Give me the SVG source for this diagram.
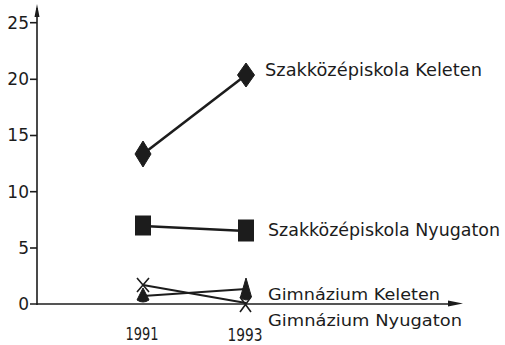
<svg xmlns="http://www.w3.org/2000/svg" width="505" height="345" viewBox="0 0 505 345">
<style>
.t{font-family:"DejaVu Sans","Liberation Sans",sans-serif;fill:#1c1c1c}
.ax{stroke:#1c1c1c;stroke-width:1.6;fill:none}
.ln{stroke:#1c1c1c;stroke-width:2.6;fill:none}
.thin{stroke:#1c1c1c;stroke-width:2;fill:none}
.mk{fill:#1c1c1c;stroke:#1c1c1c;stroke-width:1}
.x{stroke:#1c1c1c;stroke-width:1.6;fill:none}
</style>
<rect width="505" height="345" fill="#fff"/>
<g id="axes">
<line class="ax" x1="37" y1="8" x2="37" y2="305"/>
<path d="M37,4 L39.5,17 L34.5,17 Z" fill="#1c1c1c"/>
<line class="ax" x1="30" y1="304" x2="452" y2="304"/>
<path d="M463,303.5 L448,300.5 L448,306.5 Z" fill="#1c1c1c"/>
<g class="ax">
<line x1="30" y1="22.7" x2="37" y2="22.7"/>
<line x1="30" y1="79.3" x2="37" y2="79.3"/>
<line x1="30" y1="135.5" x2="37" y2="135.5"/>
<line x1="30" y1="191.7" x2="37" y2="191.7"/>
<line x1="30" y1="248" x2="37" y2="248"/>
</g>
<g class="t" font-size="17" text-anchor="end">
<text x="29" y="28.5">25</text>
<text x="29" y="85">20</text>
<text x="29" y="141">15</text>
<text x="29" y="197.5">10</text>
<text x="29" y="254">5</text>
<text x="29" y="310">0</text>
</g>
<g class="t" font-size="18" text-anchor="middle">
<text x="142" y="340" textLength="33" lengthAdjust="spacingAndGlyphs">1991</text>
<text x="245" y="340.5" textLength="35" lengthAdjust="spacingAndGlyphs">1993</text>
</g>
</g>
<g id="connectors">
<line class="ln" x1="143" y1="154" x2="246" y2="75"/>
<line class="ln" x1="143" y1="226" x2="246" y2="231"/>
<line class="thin" x1="143" y1="285" x2="246" y2="303"/>
<line class="thin" x1="143" y1="296" x2="246" y2="289"/>
</g>
<g id="szak-keleten">
<path class="mk" d="M143,141 L151,154 L143,167 L135,154 Z"/>
<path class="mk" d="M246,63 L254.5,75 L246,87 L237.5,75 Z"/>
<text class="t" x="265" y="76" font-size="17" textLength="217" lengthAdjust="spacingAndGlyphs">Szakközépiskola Keleten</text>
</g>
<g id="szak-nyugaton">
<rect class="mk" x="135.5" y="216" width="15" height="19"/>
<rect class="mk" x="238.5" y="220" width="15" height="21"/>
<text class="t" x="268" y="236" font-size="17" textLength="232" lengthAdjust="spacingAndGlyphs">Szakközépiskola Nyugaton</text>
</g>
<g id="gimn-keleten">
<path class="mk" d="M143,288 L149,300 Q143,304 137,300 Z"/>
<path class="mk" d="M246,278 L251.5,297 Q246,303 240.5,297 Z"/>
<text class="t" x="268" y="300" font-size="16.5" textLength="172" lengthAdjust="spacingAndGlyphs">Gimnázium Keleten</text>
</g>
<g id="gimn-nyugaton">
<path class="x" d="M137,278 L149,292 M149,278 L137,292"/>
<path class="x" d="M240,297 L251,312 M251,297 L240,312"/>
<text class="t" x="268" y="326" font-size="16.5" textLength="194" lengthAdjust="spacingAndGlyphs">Gimnázium Nyugaton</text>
</g>
</svg>
